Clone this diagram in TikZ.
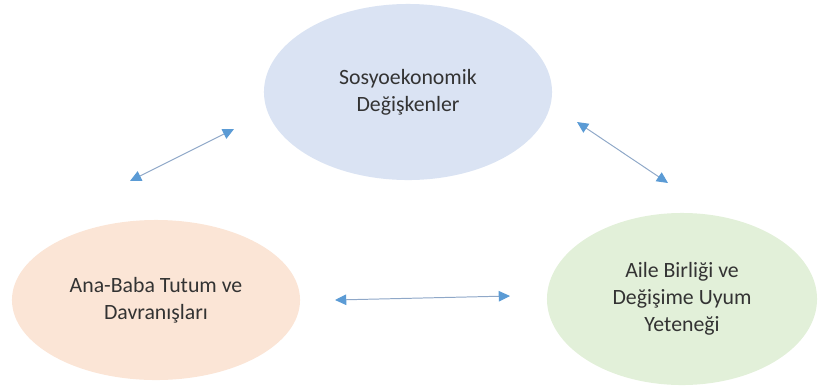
\documentclass[tikz,border=0pt]{standalone}
\usepackage{fontspec}
\setmainfont{Carlito}
\usetikzlibrary{shapes.geometric,arrows.meta}
\definecolor{socfill}{HTML}{DAE3F3}
\definecolor{parfill}{HTML}{FBE5D6}
\definecolor{famfill}{HTML}{E2F0D9}
\definecolor{tipblue}{HTML}{5B9BD5}
\definecolor{lineblue}{HTML}{8FA8C8}
\definecolor{txtgray}{HTML}{333333}
\begin{document}
\begin{tikzpicture}[x=0.025cm,y=-0.025cm,
  blob/.style={ellipse,inner sep=0pt,align=center,text=txtgray,
    font=\fontsize{15.5}{19}\selectfont},
  link/.style={lineblue,line width=0.7pt,
    {Triangle[length=8pt,width=7.5pt,color=tipblue]}-{Triangle[length=8pt,width=7.5pt,color=tipblue]}}]
\useasboundingbox (0,0) rectangle (821,390);

\node[blob,fill=socfill,minimum width=7.2cm,minimum height=4.4cm] (soc) at (408,92) {Sosyoekonomik\\Değişkenler};
\node[blob,fill=parfill,minimum width=7.2cm,minimum height=4.0cm] (par) at (156,300) {Ana-Baba Tutum ve\\Davranışları};
\node[blob,fill=famfill,minimum width=6.75cm,minimum height=4.3cm] (fam) at (682,299) {Aile Birliği ve\\Değişime Uyum\\Yeteneği};

\coordinate (a1) at (130,181);
\coordinate (a2) at (234,129);
\coordinate (b1) at (577,122);
\coordinate (b2) at (668,183);
\coordinate (c1) at (335,300);
\coordinate (c2) at (510,296);

\draw[link] (a1) -- (a2);
\draw[link] (b1) -- (b2);
\draw[link] (c1) -- (c2);
\end{tikzpicture}
\end{document}
